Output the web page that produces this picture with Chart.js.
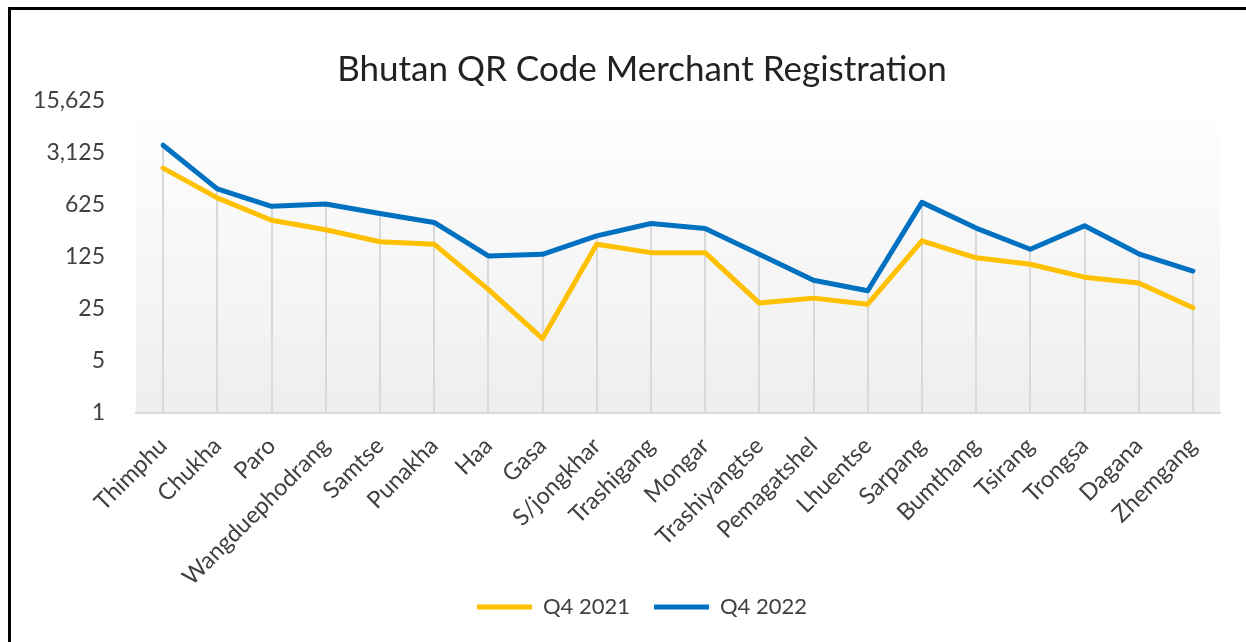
<!DOCTYPE html>
<html>
<head>
<meta charset="utf-8">
<script src="https://cdn.jsdelivr.net/npm/chart.js@4/dist/chart.umd.min.js"></script>
<style>
  html, body { margin: 0; padding: 0; background: #fff; overflow: hidden; }
  #wrap { position: relative; width: 1246px; height: 642px; overflow: hidden; }
  #frame {
    position: absolute; left: 8px; top: 7px; width: 1300px; height: 700px;
    border-left: 3px solid #000; border-top: 3px solid #000; pointer-events: none;
  }
  canvas { position: absolute; left: 0; top: 0; }
</style>
</head>
<body>
<div id="wrap">
  <canvas id="chart" width="1284" height="642"></canvas>
  <div id="frame"></div>
</div>
<script>
// districts along the x axis
var districts = ["Thimphu", "Chukha", "Paro", "Wangduephodrang", "Samtse", "Punakha", "Haa", "Gasa",
  "S/jongkhar", "Trashigang", "Mongar", "Trashiyangtse", "Pemagatshel", "Lhuentse", "Sarpang",
  "Bumthang", "Tsirang", "Trongsa", "Dagana", "Zhemgang"];

// merchants registered
var q4_2021 = [1960, 780, 390, 290, 200, 186, 46, 10, 186, 143, 143, 30, 35, 29, 206, 122, 100, 67, 56, 26];
var q4_2022 = [3970, 1030, 600, 645, 480, 364, 129, 136, 240, 352, 302, 136, 61, 44, 678, 306, 159, 328, 138, 81];

// y axis ticks, powers of 5
var yTicks = [1, 5, 25, 125, 625, 3125, 15625];

var FONT = "Lato, 'Open Sans', sans-serif";
var TXT = "#404040";

// fond degrade de la zone de trace
var plotBg = {
  id: "plotBg",
  beforeDraw: function (chart) {
    var a = chart.chartArea, ctx = chart.ctx;
    var g = ctx.createLinearGradient(0, a.top, 0, a.bottom);
    g.addColorStop(0, "#ffffff");
    g.addColorStop(1, "#eeeeee");
    ctx.save();
    ctx.fillStyle = g;
    ctx.fillRect(a.left, a.top, a.right - a.left, a.bottom - a.top);
    ctx.restore();
  }
};

// lignes de rappel (drop lines) du point le plus haut jusqu'a l'axe
var dropLines = {
  id: "dropLines",
  beforeDatasetsDraw: function (chart) {
    var x = chart.scales.x, y = chart.scales.y, ctx = chart.ctx;
    ctx.save();
    ctx.strokeStyle = "#d9d9d9";
    ctx.lineWidth = 2;
    for (var i = 0; i < districts.length; i++) {
      var top = Math.max(q4_2021[i], q4_2022[i]);
      var px = Math.round(x.getPixelForValue(i));
      ctx.beginPath();
      ctx.moveTo(px, y.getPixelForValue(top));
      ctx.lineTo(px, chart.chartArea.bottom);
      ctx.stroke();
    }
    ctx.restore();
  }
};

new Chart(document.getElementById("chart"), {
  type: "line",
  data: {
    labels: districts,
    datasets: [
      {
        label: "Q4 2021",
        data: q4_2021,
        borderColor: "#FFC000",
        backgroundColor: "#FFC000",
        borderWidth: 5,
        borderCapStyle: "round",
        borderJoinStyle: "round",
        pointRadius: 0,
        tension: 0
      },
      {
        label: "Q4 2022",
        data: q4_2022,
        borderColor: "#0070C0",
        backgroundColor: "#0070C0",
        borderWidth: 5,
        borderCapStyle: "round",
        borderJoinStyle: "round",
        pointRadius: 0,
        tension: 0
      }
    ]
  },
  options: {
    responsive: false,
    animation: false,
    devicePixelRatio: 1,
    layout: { padding: { left: 0, right: 0, top: 0, bottom: 14 } },
    plugins: {
      title: {
        display: true,
        text: "Bhutan QR Code Merchant Registration",
        color: "#222",
        font: { family: FONT, size: 35, weight: "normal" },
        padding: { top: 49, bottom: 10 }
      },
      legend: {
        position: "bottom",
        labels: {
          color: TXT,
          font: { family: FONT, size: 22 },
          usePointStyle: true,
          pointStyle: "line",
          pointStyleWidth: 55,
          boxHeight: 22,
          padding: 24
        }
      },
      tooltip: { enabled: false }
    },
    scales: {
      x: {
        type: "category",
        offset: true,
        grid: { display: false, drawTicks: false },
        border: { display: true, color: "#d9d9d9", width: 2 },
        ticks: {
          autoSkip: false,
          maxRotation: 45,
          minRotation: 45,
          padding: 19,
          color: TXT,
          font: { family: FONT, size: 23.5 }
        },
        afterFit: function (scale) {
          scale.height = 159;
          // pas de decoupage des etiquettes longues (Wangduephodrang)
          scale._computeLabelArea = function () { return undefined; };
        }
      },
      y: {
        type: "logarithmic",
        min: 1,
        max: 15625,
        grid: { display: false, drawTicks: false },
        border: { display: false },
        afterBuildTicks: function (scale) {
          scale.ticks = yTicks.map(function (v) { return { value: v }; });
        },
        afterFit: function (scale) { scale.width = 136; },
        ticks: {
          padding: 31,
          color: TXT,
          font: { family: FONT, size: 23 },
          callback: function (v) { return Number(v).toLocaleString("en-US"); }
        }
      },
      // marge vide a droite de la zone de trace
      yRight: {
        position: "right",
        display: true,
        grid: { display: false, drawTicks: false },
        border: { display: false },
        ticks: { display: false },
        afterFit: function (scale) { scale.width = 64; }
      }
    }
  },
  plugins: [plotBg, dropLines]
});
</script>
</body>
</html>
